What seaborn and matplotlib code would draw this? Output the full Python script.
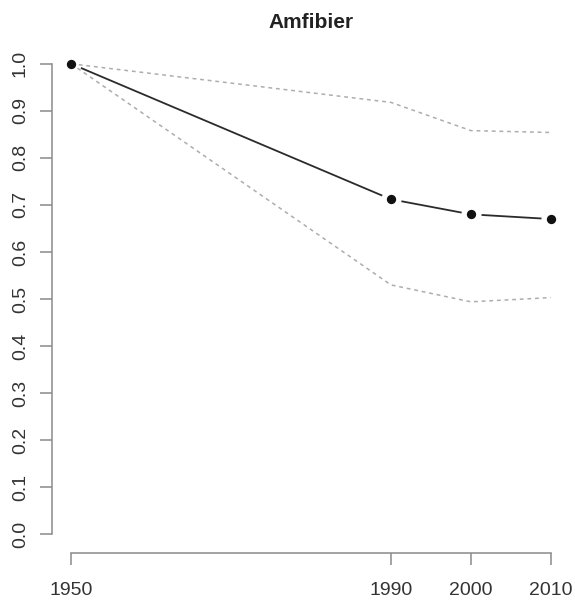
import numpy as np
import pandas as pd
import matplotlib
matplotlib.use("Agg")
import matplotlib.pyplot as plt
import seaborn as sns

years = [1950, 1990, 2000, 2010]
mean_index = [1.0, 0.712, 0.680, 0.670]
upper_ci = [1.0, 0.918, 0.858, 0.854]
lower_ci = [1.0, 0.530, 0.494, 0.503]
y_ticks = [0.0, 0.1, 0.2, 0.3, 0.4, 0.5, 0.6, 0.7, 0.8, 0.9, 1.0]
y_labels = ["0.0", "0.1", "0.2", "0.3", "0.4", "0.5", "0.6", "0.7", "0.8", "0.9", "1.0"]
title = "Amfibier"

sns.set_style("ticks")
plt.rcParams["font.family"] = ["Liberation Sans", "DejaVu Sans"]

df = pd.DataFrame({"year": years, "mean": mean_index, "upper": upper_ci, "lower": lower_ci})

W, H = 575, 601
fig = plt.figure(figsize=(W / 100, H / 100), dpi=100)
ax = fig.add_axes([52 / W, 1 - 553 / H, (570 - 52) / W, (553 - 45) / H])

# mean line
sns.lineplot(data=df, x="year", y="mean", ax=ax, color="#2b2b2b", lw=1.3, zorder=2)
# white discs to create gaps (R type="b")
sns.scatterplot(data=df, x="year", y="mean", ax=ax, color="white", s=210, linewidth=0, zorder=3)
# dashed confidence bounds
for col in ["upper", "lower"]:
    sns.lineplot(data=df, x="year", y=col, ax=ax, color="#adadad", lw=1.1,
                 linestyle=(0, (2.5, 2.5)), zorder=4)
# points
sns.scatterplot(data=df, x="year", y="mean", ax=ax, color="#111111", s=45, linewidth=0, zorder=5)

ax.set_xlim(1947.6, 2012.4)
ax.set_ylim(-0.04, 1.04)
ax.set_xticks(years)
ax.set_xticklabels([str(y) for y in years])
ax.set_yticks(y_ticks)
ax.set_yticklabels(y_labels, rotation=90, va="center")
ax.set_xlabel("")
ax.set_ylabel("")

for s in ["top", "right"]:
    ax.spines[s].set_visible(False)
ax.spines["left"].set_bounds(0, 1)
ax.spines["bottom"].set_bounds(1950, 2010)
for s in ["left", "bottom"]:
    ax.spines[s].set_color("#8a8a8a")
    ax.spines[s].set_linewidth(1.1)

ax.tick_params(axis="both", length=8.6, width=1.1, color="#8a8a8a",
               labelcolor="#333333", labelsize=14)
ax.tick_params(axis="y", pad=8)
ax.tick_params(axis="x", pad=12)

fig.text(311 / W, 1 - 22 / H, title, ha="center", va="center",
         fontsize=15, fontweight="bold", color="#222222")

fig.savefig("out.png", dpi=100, facecolor="white")
